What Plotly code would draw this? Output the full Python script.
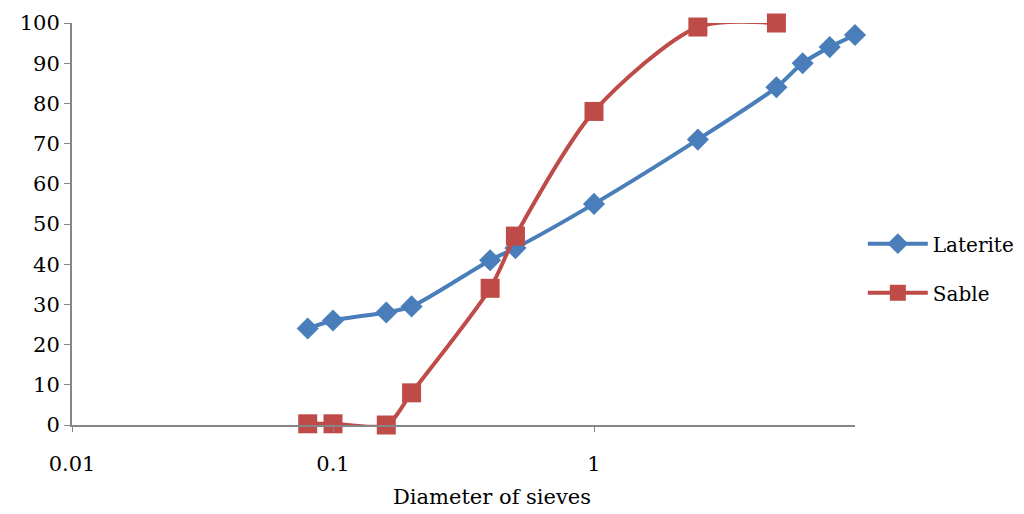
import plotly.graph_objects as go

# Sieve diameters (mm) and cumulative passing (%)
laterite_d = [0.08, 0.1, 0.16, 0.2, 0.4, 0.5, 1, 2.5, 5, 6.3, 8, 10]
laterite_p = [24, 26, 28, 29.5, 41, 44, 55, 71, 84, 90, 94, 97]

sable_d = [0.08, 0.1, 0.16, 0.2, 0.4, 0.5, 1, 2.5, 5]
sable_p = [0.3, 0.3, 0, 8, 34, 47, 78, 99, 100]

x_ticks = [0.01, 0.1, 1]
x_tick_text = ["0.01", "0.1", "1"]

BLUE = "#4A7EBB"
RED = "#BE4B48"
AXIS = "#868686"
FONT = "DejaVu Serif"

fig = go.Figure()
fig.add_trace(go.Scatter(
    x=laterite_d, y=laterite_p, name="Laterite", legendgroup="lat",
    mode="lines+markers", cliponaxis=False,
    line=dict(color=BLUE, width=4, shape="spline", smoothing=0.8),
    marker=dict(symbol="diamond", size=17, color=BLUE),
))
fig.add_trace(go.Scatter(
    x=sable_d, y=sable_p, name="Sable", legendgroup="sab",
    mode="lines+markers", cliponaxis=False,
    line=dict(color=RED, width=4, shape="spline", smoothing=0.8),
    marker=dict(symbol="square", size=19, color=RED),
))

fig.update_layout(
    width=1024, height=514,
    margin=dict(l=72, r=169, t=23, b=89, autoexpand=False),
    paper_bgcolor="white", plot_bgcolor="white",
    font=dict(family=FONT, size=20, color="black"),
    showlegend=True,
    legend=dict(x=1.01, y=0.39, xanchor="left", yanchor="middle",
                font=dict(family=FONT, size=20), itemwidth=60,
                tracegroupgap=20, bgcolor="rgba(0,0,0,0)"),
    xaxis=dict(type="log", range=[-2, 1], tickvals=x_ticks, ticktext=x_tick_text,
               showgrid=False, zeroline=False, showline=True, linecolor=AXIS,
               linewidth=2, ticks="outside", ticklen=5, tickcolor=AXIS,
               tickwidth=1, automargin=False, ticklabelstandoff=14,
               tickfont=dict(family=FONT, size=21)),
    yaxis=dict(range=[0, 100], dtick=10, showgrid=False, zeroline=False,
               showline=True, linecolor=AXIS, linewidth=2, ticks="outside",
               ticklen=6, tickcolor=AXIS, tickwidth=1, automargin=False,
               tickfont=dict(family=FONT, size=21)),
    annotations=[dict(text="Diameter of sieves", x=0.536, y=-0.179,
                      xref="paper", yref="paper", xanchor="center",
                      yanchor="middle", showarrow=False,
                      font=dict(family=FONT, size=21))],
)

fig.write_html("out.html")
